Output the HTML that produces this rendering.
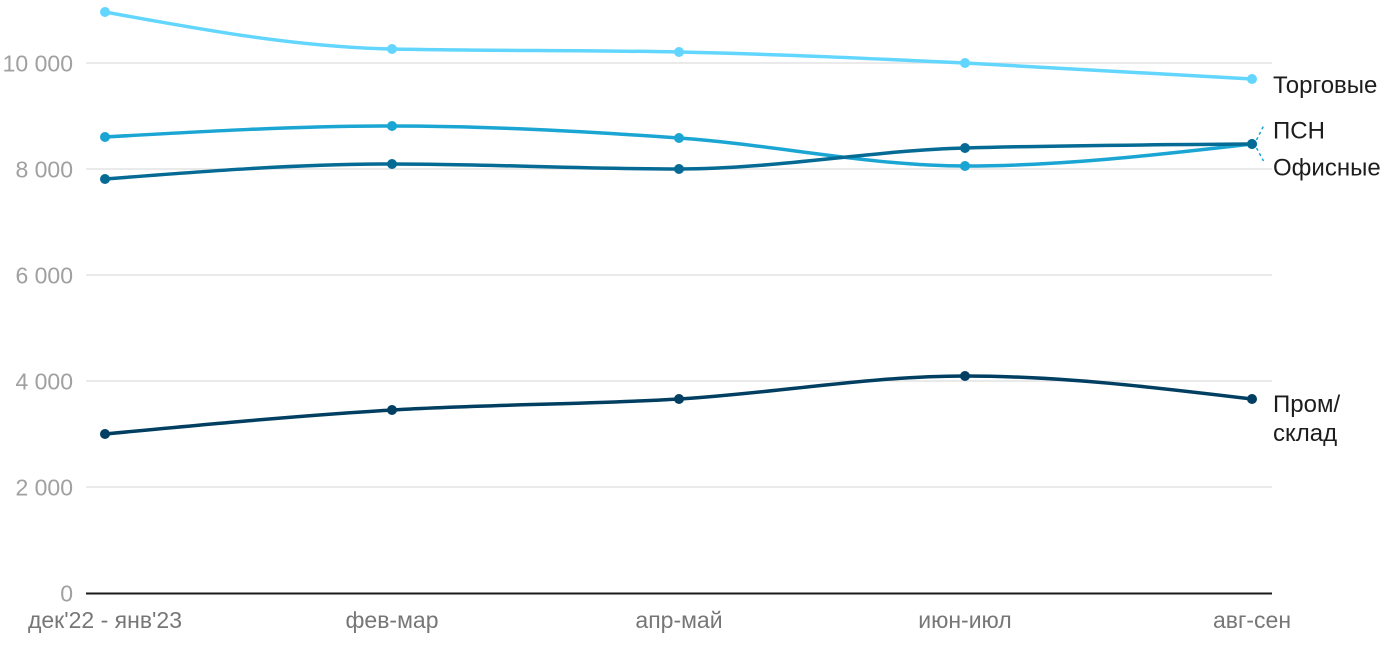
<!DOCTYPE html>
<html>
<head>
<meta charset="utf-8">
<style>
  html,body{margin:0;padding:0;background:#fff;}
  svg{display:block;}
  text{font-family:"Liberation Sans",Arial,sans-serif;}
</style>
</head>
<body>
<svg width="1400" height="650" viewBox="0 0 1400 650" xmlns="http://www.w3.org/2000/svg">
  <!-- gridlines -->
  <g stroke="#e3e3e3" stroke-width="1.5">
    <line x1="86" y1="63" x2="1272" y2="63"/>
    <line x1="86" y1="169" x2="1272" y2="169"/>
    <line x1="86" y1="275" x2="1272" y2="275"/>
    <line x1="86" y1="381" x2="1272" y2="381"/>
    <line x1="86" y1="487" x2="1272" y2="487"/>
  </g>
  <line x1="86" y1="593.5" x2="1272" y2="593.5" stroke="#1a1a1a" stroke-width="2"/>

  <!-- y labels -->
  <g fill="#a0a0a0" font-size="23" text-anchor="end">
    <text x="73" y="71.5">10 000</text>
    <text x="73" y="177.5">8 000</text>
    <text x="73" y="283.5">6 000</text>
    <text x="73" y="389.5">4 000</text>
    <text x="73" y="495.5">2 000</text>
    <text x="73" y="601.5">0</text>
  </g>

  <!-- x labels -->
  <g fill="#777" font-size="23" text-anchor="middle">
    <text x="105" y="628">дек'22 - янв'23</text>
    <text x="392" y="628">фев-мар</text>
    <text x="679" y="628">апр-май</text>
    <text x="965" y="628">июн-июл</text>
    <text x="1252" y="628">авг-сен</text>
  </g>

  <!-- series -->
  <g fill="none" stroke-width="3.5" stroke-linecap="round" stroke-linejoin="round">
    <!-- Торговые -->
    <path stroke="#62d6fe" d="M105,12 C200.67,29.5 296.33,47 392,49 C487.67,51 583.33,50 679,52 C774.33,54 869.67,58.5 965,63 C1060.67,67.5 1156.33,73.25 1252,79"/>
    <!-- ПСН -->
    <path stroke="#1ba5d3" d="M105,137 C200.67,131.5 296.33,126 392,126 C487.67,126 583.33,131.3 679,138 C774.33,144.7 869.67,166 965,166 C1060.67,166 1156.33,155 1252,144"/>
    <!-- Офисные -->
    <path stroke="#066b94" d="M105,179 C200.67,171.5 296.33,164 392,164 C487.67,164 583.33,169 679,169 C774.33,169 869.67,150.66 965,148 C1060.67,145.33 1156.33,144.67 1252,144"/>
    <!-- Пром/склад -->
    <path stroke="#003f62" d="M105,434 C200.67,424.9 296.33,415.8 392,410 C487.67,404.2 583.33,404.7 679,399 C774.33,393.3 869.67,376 965,376 C1060.67,376 1156.33,387.5 1252,399"/>
  </g>

  <!-- dots -->
  <g fill="#62d6fe">
    <circle cx="105" cy="12" r="5"/><circle cx="392" cy="49" r="5"/><circle cx="679" cy="52" r="5"/><circle cx="965" cy="63" r="5"/><circle cx="1252" cy="79" r="5"/>
  </g>
  <g fill="#1ba5d3">
    <circle cx="105" cy="137" r="5"/><circle cx="392" cy="126" r="5"/><circle cx="679" cy="138" r="5"/><circle cx="965" cy="166" r="5"/><circle cx="1252" cy="144" r="5"/>
  </g>
  <g fill="#066b94">
    <circle cx="105" cy="179" r="5"/><circle cx="392" cy="164" r="5"/><circle cx="679" cy="169" r="5"/><circle cx="965" cy="148" r="5"/><circle cx="1252" cy="144" r="5"/>
  </g>
  <g fill="#003f62">
    <circle cx="105" cy="434" r="5"/><circle cx="392" cy="410" r="5"/><circle cx="679" cy="399" r="5"/><circle cx="965" cy="376" r="5"/><circle cx="1252" cy="399" r="5"/>
  </g>

  <!-- connectors -->
  <g stroke="#1ba5d3" stroke-width="1.5" stroke-dasharray="3,3" fill="none">
    <line x1="1256.5" y1="140" x2="1263.5" y2="126"/>
    <line x1="1256.5" y1="148" x2="1263.5" y2="161"/>
  </g>

  <!-- series labels -->
  <g fill="#1d1d1d" font-size="24">
    <text x="1273" y="93">Торговые</text>
    <text x="1273" y="138.5">ПСН</text>
    <text x="1273" y="175.5">Офисные</text>
    <text x="1273" y="412">Пром/</text>
    <text x="1273" y="441">склад</text>
  </g>
</svg>
</body>
</html>
